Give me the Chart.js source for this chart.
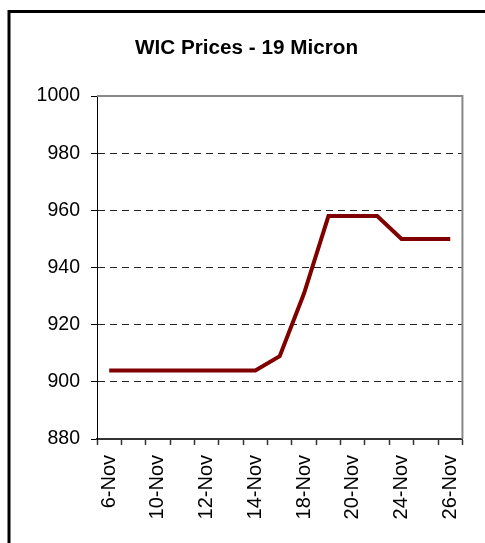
<!DOCTYPE html>
<html>
<head>
<meta charset="utf-8">
<script src="https://cdn.jsdelivr.net/npm/chart.js@4"></script>
<style>
  html, body { margin: 0; padding: 0; background: #fff; }
  #wrap { position: relative; width: 485px; height: 543px; }
</style>
</head>
<body>
<div id="wrap"><canvas id="priceChart" width="485" height="543"></canvas></div>
<script>
// WIC Prices - 19 Micron (trading days in November)
const days = ['6-Nov','7-Nov','10-Nov','11-Nov','12-Nov','13-Nov','14-Nov','17-Nov',
              '18-Nov','19-Nov','20-Nov','21-Nov','24-Nov','25-Nov','26-Nov'];
const prices = [904, 904, 904, 904, 904, 904, 904, 909, 931, 958, 958, 958, 950, 950, 950];
const yTicks = [880, 900, 920, 940, 960, 980, 1000];

const fontFamily = '"Liberation Sans", Arial, sans-serif';

// outer frame + plot area frame (top/right gray edges)
const frames = {
  id: 'frames',
  beforeDraw(chart) {
    const c = chart.ctx;
    c.save();
    c.fillStyle = '#fff';
    c.fillRect(0, 0, chart.width, chart.height);
    c.strokeStyle = '#000';
    c.lineWidth = 3;
    c.strokeRect(9, 11.5, 600, 600);
    c.restore();
  },
  afterDraw(chart) {
    const a = chart.chartArea;
    const c = chart.ctx;
    c.save();
    c.strokeStyle = '#888';
    c.lineWidth = 2;
    c.beginPath();
    c.moveTo(a.left, a.top);
    c.lineTo(a.right, a.top);
    c.lineTo(a.right, a.bottom);
    c.stroke();
    c.restore();
  }
};

const ctx = document.getElementById('priceChart').getContext('2d');
const chart = new Chart(ctx, {
  type: 'line',
  data: {
    labels: days,
    datasets: [{
      label: 'WIC Price',
      data: prices,
      borderColor: '#800000',
      borderWidth: 4,
      pointRadius: 0,
      tension: 0,
      fill: false
    }]
  },
  options: {
    responsive: false,
    animation: false,
    layout: { padding: { left: 30, right: 22, top: 0, bottom: 0 } },
    plugins: {
      legend: { display: false },
      tooltip: { enabled: false },
      title: {
        display: true,
        text: 'WIC Prices - 19 Micron',
        color: '#000',
        font: { family: fontFamily, size: 20.7, weight: 'bold', lineHeight: 1.2 },
        padding: { top: 36, bottom: 35.2 }
      }
    },
    scales: {
      x: {
        offset: true,
        grid: {
          offset: true,
          drawOnChartArea: false,
          drawTicks: true,
          tickLength: 6,
          tickColor: '#333',
          tickWidth: 1.5
        },
        border: { display: true, color: '#333', width: 2 },
        ticks: {
          autoSkip: false,
          minRotation: 90,
          maxRotation: 90,
          padding: 10,
          color: '#000',
          font: { family: fontFamily, size: 20 },
          callback: (v, i) => (i % 2 === 0 ? days[i] : '')
        },
        afterFit: s => { s.height = 104; }
      },
      y: {
        min: yTicks[0],
        max: yTicks[yTicks.length - 1],
        afterBuildTicks: s => { s.ticks = yTicks.map(v => ({ value: v })); },
        grid: {
          drawTicks: true,
          tickLength: 6,
          tickColor: '#000',
          lineWidth: 1,
          color: c => (c.tick && (c.tick.value === 880 || c.tick.value === 1000)) ? 'rgba(0,0,0,0)' : '#222'
        },
        border: { display: true, color: '#000', width: 1, dash: [7, 5] },
        ticks: {
          padding: 11,
          color: '#000',
          font: { family: fontFamily, size: 19.5 },
          callback: v => String(v)
        },
        afterFit: s => { s.width = 67; }
      }
    }
  },
  plugins: [frames]
});
</script>
</body>
</html>
